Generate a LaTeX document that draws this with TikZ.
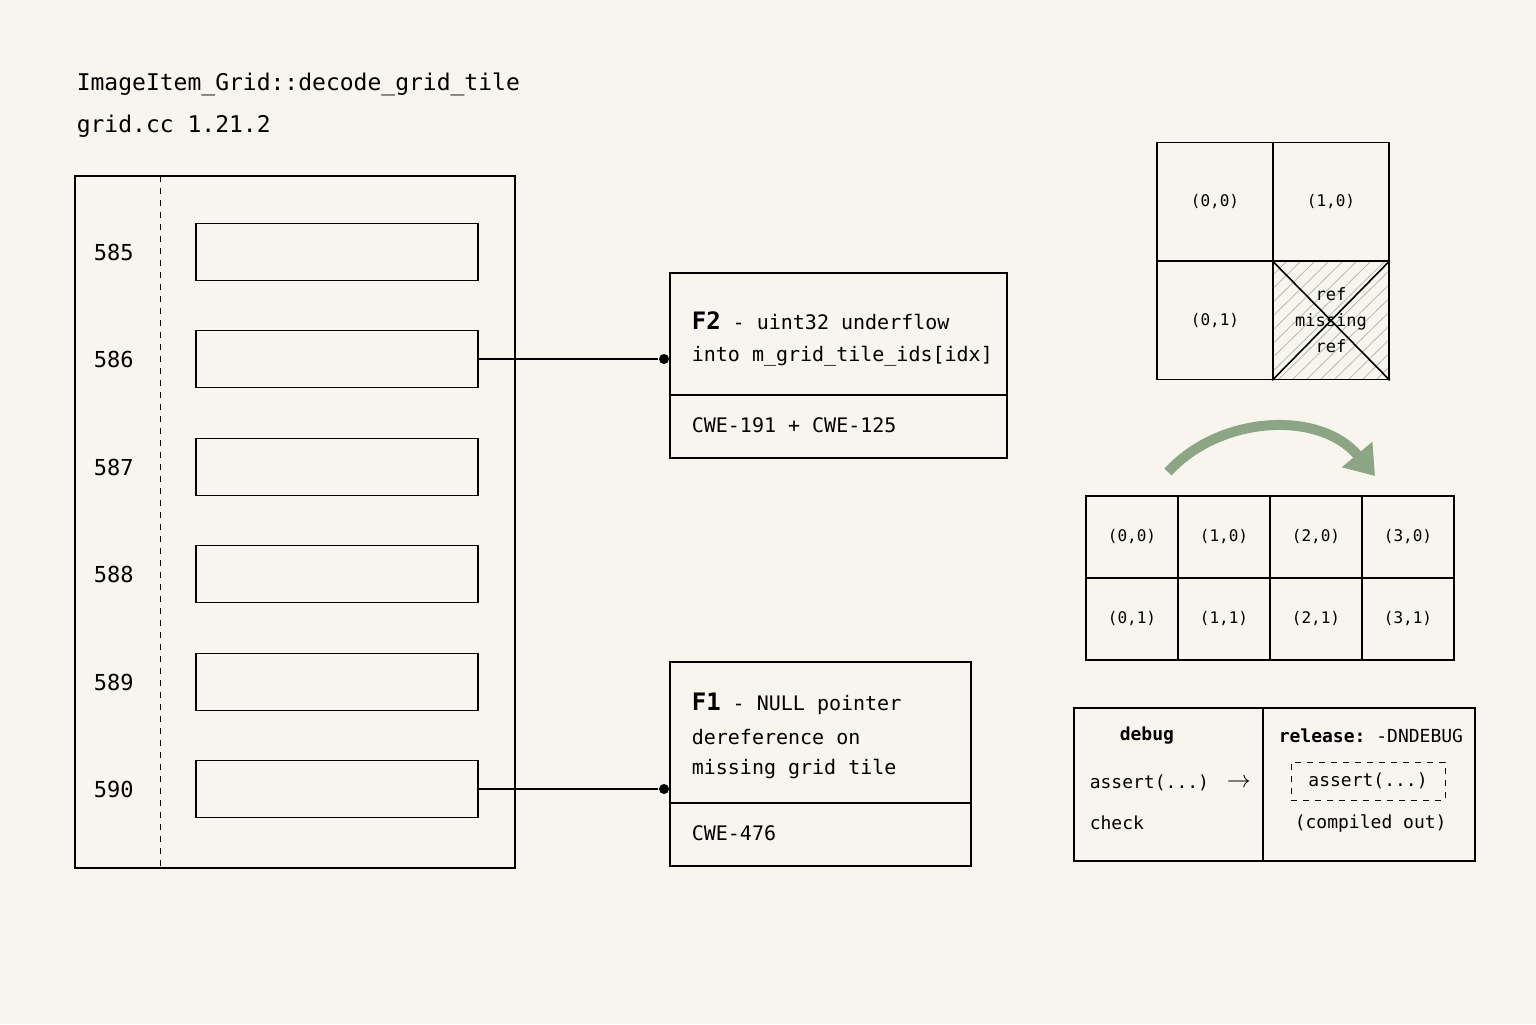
\documentclass[tikz,border=0pt]{standalone}
\usepackage{fontspec}
\setmonofont{DejaVu Sans Mono}
\usetikzlibrary{positioning,patterns,arrows.meta}
\definecolor{paper}{HTML}{F8F5EF}
\definecolor{sage}{HTML}{8BA585}
\begin{document}
\begin{tikzpicture}[x=0.5pt,y=-0.5pt,thick,
  every node/.style={font=\ttfamily\fontsize{10}{12}\selectfont},
  rowbox/.style={draw,minimum width=141pt,minimum height=28.5pt,inner sep=0pt},
  cell/.style={draw,minimum width=58pt,minimum height=59pt,inner sep=0pt,font=\ttfamily\fontsize{8}{10}\selectfont},
  tcell/.style={draw,minimum width=46pt,minimum height=41pt,inner sep=0pt,font=\ttfamily\fontsize{8}{10}\selectfont},
  lbl/.style={anchor=west,inner sep=0pt},
  small/.style={font=\ttfamily\fontsize{9}{11}\selectfont},
  dot/.style={circle,fill=black,inner sep=0pt,minimum size=5pt}
]
\fill[paper] (0,0) rectangle (1536,1024);
\useasboundingbox (0,0) rectangle (1536,1024);
% heading
\node[lbl,font=\ttfamily\fontsize{11.5}{13}\selectfont] (title) at (76,84) {ImageItem\_Grid::decode\_grid\_tile};
\node[lbl,font=\ttfamily\fontsize{11.5}{13}\selectfont] (ver) at (76,126) {grid.cc 1.21.2};
% source panel
\draw (75,176) rectangle (515,868);
\draw[dashed,thin] (160,176) -- (160,868);
\foreach \n/\y in {585/252,586/359,587/467,588/574,589/682,590/789} {
  \node[lbl,font=\ttfamily\fontsize{11}{13}\selectfont] (l\n) at (93,\y) {\n};
  \node[rowbox] (r\n) at (337,\y) {};
}
% F2
\draw (670,273) rectangle (1007,458);
\draw (670,395) -- (1007,395);
\node[lbl] (f2a) at (691,321) {{\fontsize{12}{12}\selectfont\bfseries F2} - uint32 underflow};
\node[lbl] (f2b) at (691,356) {into m\_grid\_tile\_ids[idx]};
\node[lbl] (f2c) at (691,425) {CWE-191 + CWE-125};
\node[dot] (d2) at (664,359) {};
\draw (r586.east) -- (d2);
% F1
\draw (670,662) rectangle (971,866);
\draw (670,803) -- (971,803);
\node[lbl] (f1a) at (691,704) {{\fontsize{12}{12}\selectfont\bfseries F1} - NULL pointer};
\node[lbl] (f1b) at (691,737) {dereference on};
\node[lbl] (f1c) at (691,769) {missing grid tile};
\node[lbl] (f1d) at (691,833) {CWE-476};
\node[dot] (d1) at (664,789) {};
\draw (r590.east) -- (d1);
% 2x2 grid
\node[cell] (g00) at (1215,201.5) {(0,0)};
\node[cell] (g10) at (1331,201.5) {(1,0)};
\node[cell] (g01) at (1215,320.5) {(0,1)};
\begin{scope}
\clip (1273,261) rectangle (1389,379);
\foreach \k in {0,14,...,240}
  \draw[sage!70,thin] (1273+\k-120,379) -- ++(120,-118);
\end{scope}
\node[cell,align=center,font=\ttfamily\fontsize{8.5}{13}\selectfont] (g11) at (1331,320.5) {ref\\missing\\ref};
\draw (g11.north west) -- (g11.south east) (g11.north east) -- (g11.south west);
% arrow
\coordinate (a0) at (1168,472);
\coordinate (a1) at (1375,476);
\draw[sage,line width=5pt,-{Triangle[length=14pt,width=19pt]}] (a0) .. controls (1220,415) and (1320,410) .. (a1);
% 4x2 grid
\foreach \c in {0,...,3} \foreach \r in {0,1}
  \node[tcell] (t\c\r) at (1132+92*\c,537+82*\r) {(\c,\r)};
% debug / release
\draw (1074,708) rectangle (1475,861);
\draw (1263,708) -- (1263,861);
\node[lbl,small,font=\ttfamily\bfseries\fontsize{9}{11}\selectfont] (dbg) at (1119,736) {debug};
\node[lbl,small] (as1) at (1089,783) {assert(...)};
\node[lbl,small] (chk) at (1089,823) {check};
\node[lbl,font=\fontsize{12}{12}\selectfont] (arr) at (1226,783) {$\rightarrow$};
\node[lbl,small] (rel) at (1278,736) {\textbf{release:} -DNDEBUG};
\node[draw,dashed,thin,minimum width=77pt,minimum height=19pt,inner sep=0pt,small] (as2) at (1368,781) {assert(...)\hspace{11pt}};
\node[lbl,small] (co) at (1294,823) {(compiled out)};
\end{tikzpicture}
\end{document}
